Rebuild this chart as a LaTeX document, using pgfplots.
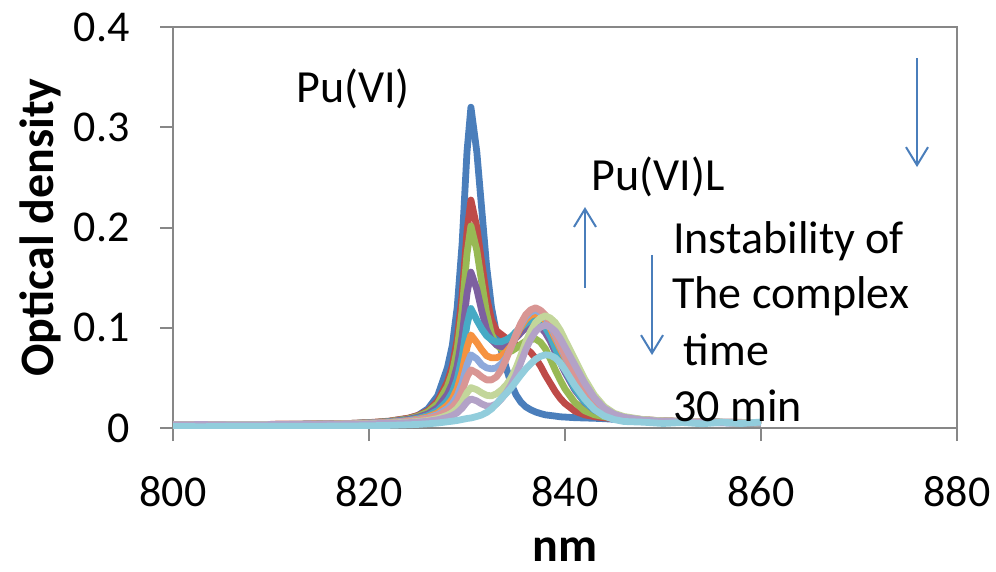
\documentclass[border=0pt]{standalone}
\usepackage{fontspec}
\setmainfont{Carlito}
\usepackage{pgfplots}
\usepackage{pgfplotstable}
\pgfplotsset{compat=1.18}
\usetikzlibrary{arrows.meta}
\definecolor{c1}{HTML}{4A7EBB}
\definecolor{c2}{HTML}{BE4B48}
\definecolor{c3}{HTML}{98B954}
\definecolor{c4}{HTML}{7D60A0}
\definecolor{c5}{HTML}{46AAC5}
\definecolor{c6}{HTML}{F69240}
\definecolor{c7}{HTML}{8EA9DB}
\definecolor{c8}{HTML}{D99694}
\definecolor{c9}{HTML}{C3D69B}
\definecolor{c10}{HTML}{B3A2C7}
\definecolor{c11}{HTML}{92CDDC}
\definecolor{axgray}{HTML}{878787}
\definecolor{arrowblue}{HTML}{4A7EBB}

\pgfplotstableread{
x B R G P T O LB PK LG LP LA
800 0.0030 0.0031 0.0032 0.0032 0.0032 0.0032 0.0032 0.0032 0.0032 0.0032 0.0015
803 0.0028 0.0034 0.0030 0.0033 0.0031 0.0034 0.0031 0.0035 0.0031 0.0034 0.0013
806 0.0032 0.0030 0.0034 0.0031 0.0035 0.0032 0.0035 0.0031 0.0034 0.0031 0.0017
809 0.0033 0.0035 0.0035 0.0034 0.0035 0.0035 0.0035 0.0034 0.0034 0.0033 0.0016
812 0.0031 0.0038 0.0034 0.0038 0.0034 0.0037 0.0036 0.0038 0.0036 0.0035 0.0018
815 0.0036 0.0039 0.0039 0.0039 0.0039 0.0039 0.0038 0.0038 0.0037 0.0036 0.0018
818 0.0043 0.0045 0.0045 0.0045 0.0043 0.0043 0.0042 0.0042 0.0040 0.0039 0.0020
820 0.0050 0.0054 0.0052 0.0051 0.0049 0.0048 0.0047 0.0047 0.0043 0.0041 0.0022
822 0.0065 0.0068 0.0065 0.0062 0.0059 0.0056 0.0055 0.0053 0.0049 0.0047 0.0026
824 0.0095 0.0098 0.0092 0.0086 0.0078 0.0073 0.0070 0.0066 0.0058 0.0053 0.0032
825 0.0125 0.0125 0.0118 0.0108 0.0097 0.0088 0.0082 0.0077 0.0065 0.0059 0.0036
826 0.0190 0.0170 0.0160 0.0140 0.0124 0.0110 0.0100 0.0093 0.0075 0.0068 0.0042
827 0.0320 0.0265 0.0243 0.0205 0.0174 0.0150 0.0134 0.0121 0.0094 0.0082 0.0050
828 0.0601 0.0459 0.0413 0.0336 0.0273 0.0227 0.0195 0.0170 0.0127 0.0106 0.0062
828.5 0.0823 0.0616 0.0552 0.0442 0.0354 0.0290 0.0244 0.0208 0.0154 0.0124 0.0068
829 0.1203 0.0883 0.0786 0.0620 0.0488 0.0392 0.0322 0.0268 0.0194 0.0152 0.0075
829.5 0.1837 0.1324 0.1175 0.0915 0.0711 0.0561 0.0450 0.0370 0.0260 0.0198 0.0085
830 0.2756 0.1960 0.1738 0.1341 0.1030 0.0804 0.0630 0.0510 0.0352 0.0260 0.0095
830.4 0.3200 0.2274 0.2016 0.1555 0.1192 0.0929 0.0730 0.0580 0.0403 0.0290 0.0100
831 0.2756 0.2004 0.1773 0.1384 0.1076 0.0852 0.0690 0.0550 0.0382 0.0270 0.0115
831.5 0.2186 0.1651 0.1455 0.1170 0.0990 0.0780 0.0630 0.0510 0.0351 0.0240 0.0130
832 0.1615 0.1305 0.1144 0.0980 0.0920 0.0720 0.0600 0.0480 0.0326 0.0220 0.0155
832.5 0.1203 0.1078 0.0936 0.0880 0.0880 0.0700 0.0590 0.0480 0.0321 0.0220 0.0190
833 0.0949 0.0971 0.0831 0.0830 0.0860 0.0700 0.0600 0.0510 0.0341 0.0240 0.0240
833.5 0.0775 0.0933 0.0789 0.0810 0.0860 0.0720 0.0640 0.0580 0.0379 0.0290 0.0295
834 0.0601 0.0895 0.0762 0.0820 0.0880 0.0760 0.0700 0.0688 0.0428 0.0350 0.0345
834.5 0.0442 0.0855 0.0765 0.0850 0.0910 0.0820 0.0808 0.0809 0.0500 0.0430 0.0400
835 0.0331 0.0831 0.0796 0.0900 0.0960 0.0914 0.0927 0.0937 0.0598 0.0530 0.0465
835.5 0.0258 0.0811 0.0834 0.0950 0.1000 0.1009 0.1031 0.1046 0.0726 0.0655 0.0530
836 0.0211 0.0792 0.0867 0.0999 0.1044 0.1084 0.1111 0.1131 0.0857 0.0784 0.0590
836.5 0.0182 0.0754 0.0885 0.1029 0.1080 0.1125 0.1157 0.1179 0.0967 0.0886 0.0640
837 0.0160 0.0694 0.0888 0.1038 0.1093 0.1142 0.1175 0.1199 0.1052 0.0964 0.0685
837.5 0.0144 0.0619 0.0855 0.1007 0.1063 0.1116 0.1150 0.1174 0.1098 0.1007 0.0715
838 0.0131 0.0527 0.0790 0.0949 0.1002 0.1070 0.1102 0.1126 0.1119 0.1026 0.0730
838.5 0.0125 0.0446 0.0690 0.0866 0.0914 0.0993 0.1022 0.1044 0.1097 0.1006 0.0725
839 0.0119 0.0365 0.0580 0.0759 0.0799 0.0894 0.0921 0.0940 0.1053 0.0967 0.0700
839.5 0.0112 0.0297 0.0480 0.0656 0.0689 0.0795 0.0819 0.0836 0.0978 0.0896 0.0650
840 0.0109 0.0244 0.0390 0.0555 0.0581 0.0698 0.0717 0.0732 0.0879 0.0807 0.0580
841 0.0103 0.0169 0.0255 0.0381 0.0396 0.0502 0.0514 0.0524 0.0685 0.0629 0.0425
842 0.0100 0.0131 0.0172 0.0256 0.0262 0.0339 0.0345 0.0350 0.0490 0.0450 0.0290
843 0.0097 0.0113 0.0132 0.0179 0.0180 0.0224 0.0228 0.0230 0.0328 0.0301 0.0185
844 0.0093 0.0102 0.0112 0.0137 0.0136 0.0159 0.0160 0.0160 0.0214 0.0197 0.0120
845 0.0087 0.0093 0.0099 0.0113 0.0110 0.0125 0.0125 0.0124 0.0148 0.0138 0.0085
846 0.0078 0.0082 0.0089 0.0096 0.0094 0.0105 0.0104 0.0104 0.0115 0.0107 0.0065
848 0.0068 0.0073 0.0076 0.0080 0.0079 0.0082 0.0082 0.0082 0.0084 0.0079 0.0058
850 0.0062 0.0065 0.0068 0.0071 0.0070 0.0071 0.0071 0.0071 0.0071 0.0067 0.0045
852 0.0059 0.0061 0.0063 0.0066 0.0063 0.0066 0.0065 0.0065 0.0064 0.0061 0.0055
854 0.0055 0.0058 0.0059 0.0061 0.0059 0.0061 0.0061 0.0060 0.0059 0.0057 0.0042
856 0.0052 0.0055 0.0056 0.0058 0.0056 0.0058 0.0058 0.0057 0.0056 0.0053 0.0058
858 0.0049 0.0052 0.0052 0.0055 0.0053 0.0056 0.0055 0.0055 0.0054 0.0051 0.0045
860 0.0046 0.0049 0.0050 0.0051 0.0050 0.0052 0.0052 0.0052 0.0050 0.0049 0.0060
}\spectra

\begin{document}
\begin{tikzpicture}
\begin{axis}[
  scale only axis, width=392pt, height=200.5pt,
  xmin=800, xmax=880, ymin=0, ymax=0.4,
  xtick={800,820,840,860,880}, ytick={0,0.1,0.2,0.3,0.4},
  axis line style={draw=axgray, line width=1pt},
  tick style={draw=axgray, line width=1pt},
  tick align=outside, major tick length=6.5pt,
  xtick pos=bottom, ytick pos=left,
  /pgf/number format/assume math mode=true,
  ticklabel style={font=\fontsize{22}{26}\selectfont},
  yticklabel style={/pgf/number format/fixed, anchor=east, inner sep=0pt, xshift=-15pt},
  xticklabel style={anchor=center, yshift=-25.5pt},
  xlabel={nm}, ylabel={Optical density},
  label style={font=\bfseries\fontsize{24}{28}\selectfont},
  xlabel style={at={(axis description cs:0.5,-0.3042)}, anchor=center},
  ylabel style={at={(axis description cs:-0.1696,0.5)}, anchor=center},
  every axis plot/.append style={line width=3.4pt, line join=round, no markers},
]
\addplot[c1] table[x=x,y=B]{\spectra};
\addplot[c2] table[x=x,y=R]{\spectra};
\addplot[c3] table[x=x,y=G]{\spectra};
\addplot[c4] table[x=x,y=P]{\spectra};
\addplot[c5] table[x=x,y=T]{\spectra};
\addplot[c6] table[x=x,y=O]{\spectra};
\addplot[c7] table[x=x,y=LB]{\spectra};
\addplot[c8] table[x=x,y=PK]{\spectra};
\addplot[c9] table[x=x,y=LG]{\spectra};
\addplot[c10] table[x=x,y=LP]{\spectra};
\addplot[c11] table[x=x,y=LA]{\spectra};

\begin{scope}[every node/.style={anchor=base west, inner sep=0pt, font=\fontsize{23}{27}\selectfont}]
\node at (axis cs:812.55,0.3242) {Pu(VI)};
\node at (axis cs:842.7,0.2367) {Pu(VI)L};
\node at (axis cs:851.0,0.1745) {Instability of};
\node at (axis cs:850.9,0.1197) {The complex};
\node at (axis cs:852.1,0.0628) {time};
\node at (axis cs:851.0,0.0063) {30 min};
\end{scope}
\draw[arrowblue, line width=1pt, -{Straight Barb[length=9pt,width=11pt]}] (axis cs:842.04,0.1397) -- (axis cs:842.04,0.2204);
\draw[arrowblue, line width=1pt, -{Straight Barb[length=9pt,width=11pt]}] (axis cs:848.88,0.1726) -- (axis cs:848.88,0.0728);
\draw[arrowblue, line width=1pt, -{Straight Barb[length=9pt,width=11pt]}] (axis cs:875.92,0.369) -- (axis cs:875.92,0.2603);
\end{axis}
\pgfresetboundingbox
\path ([xshift=-86.5pt,yshift=-71.5pt]current axis.south west) rectangle ([xshift=19.5pt,yshift=13.5pt]current axis.north east);
\end{tikzpicture}
\end{document}
